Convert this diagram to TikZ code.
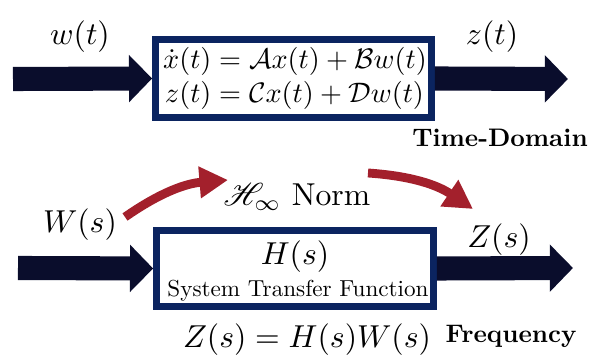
\documentclass[tikz,border=0pt]{standalone}
\usepackage{amsmath}
\usepackage{mathrsfs}
\usetikzlibrary{arrows.meta}

\definecolor{arrownavy}{HTML}{0A0D2C}
\definecolor{boxnavy}{HTML}{0B2460}
\definecolor{normred}{HTML}{A3202C}

\tikzset{
  sysbox/.style={draw=boxnavy, line width=2.1pt, fill=white, inner sep=0pt},
  blockarrow/.style={arrownavy, line width=7.6pt, -{Triangle[length=7.3pt,width=14.5pt]}},
  normarrow/.style={normred, line width=2.8pt, -{Triangle[length=9pt,width=9.5pt]}},
  domainlabel/.style={font=\bfseries, scale=0.8, transform shape}
}

\begin{document}
\begin{tikzpicture}[x=0.3155pt, y=-0.3155pt]
  \useasboundingbox (0,0) rectangle (593,361);

  % Time-domain (state space) model
  \node[sysbox, minimum width=87.1pt, minimum height=24.6pt] (statebox) at (293.5,78.5) {};
  \node[scale=0.89, transform shape] (stateeq) at (295,78.5)
    {\setlength{\jot}{0pt}$\begin{aligned}\dot{x}(t) &= \mathcal{A}x(t) + \mathcal{B}w(t)\\ z(t) &= \mathcal{C}x(t) + \mathcal{D}w(t)\end{aligned}$};
  \node (wt) at (80,37) {$w(t)$};
  \node (zt) at (492,37) {$z(t)$};
  \node[domainlabel] (timedomain) at (500,138) {Time-Domain};

  \coordinate (wtin) at (13,79);
  \coordinate (ztout) at (568,79);
  \draw[blockarrow] (wtin) -- (statebox.west);
  \draw[blockarrow] (statebox.east) -- (ztout);

  % Frequency-domain model
  \node[sysbox, minimum width=87.4pt, minimum height=24.0pt] (tfbox) at (295,268.5) {};
  \node (Hs) at (295,257) {$H(s)$};
  \node[scale=0.73, transform shape] (tflabel) at (298,291) {System Transfer Function};
  \node (Ws) at (80,225) {$W(s)$};
  \node (Zs) at (499,240) {$Z(s)$};
  \node (norm) at (297,197) {$\mathscr{H}_\infty$ Norm};
  \node (relation) at (307,340) {$Z(s) = H(s)W(s)$};
  \node[domainlabel, anchor=base] (freq) at (511,343) {Frequency};

  \coordinate (Wsin) at (18,268);
  \coordinate (Zsout) at (573,268);
  \draw[blockarrow] (Wsin) -- (tfbox.west);
  \draw[blockarrow] (tfbox.east) -- (Zsout);

  % Norm arrows
  \coordinate (normstart) at (125,217);
  \coordinate (normmid) at (228,180);
  \coordinate (normstop) at (368,173);
  \coordinate (normend) at (473,209);
  \draw[normarrow] (normstart) to[bend left=15] (normmid);
  \draw[normarrow] (normstop) to[bend left=15] (normend);
\end{tikzpicture}
\end{document}
